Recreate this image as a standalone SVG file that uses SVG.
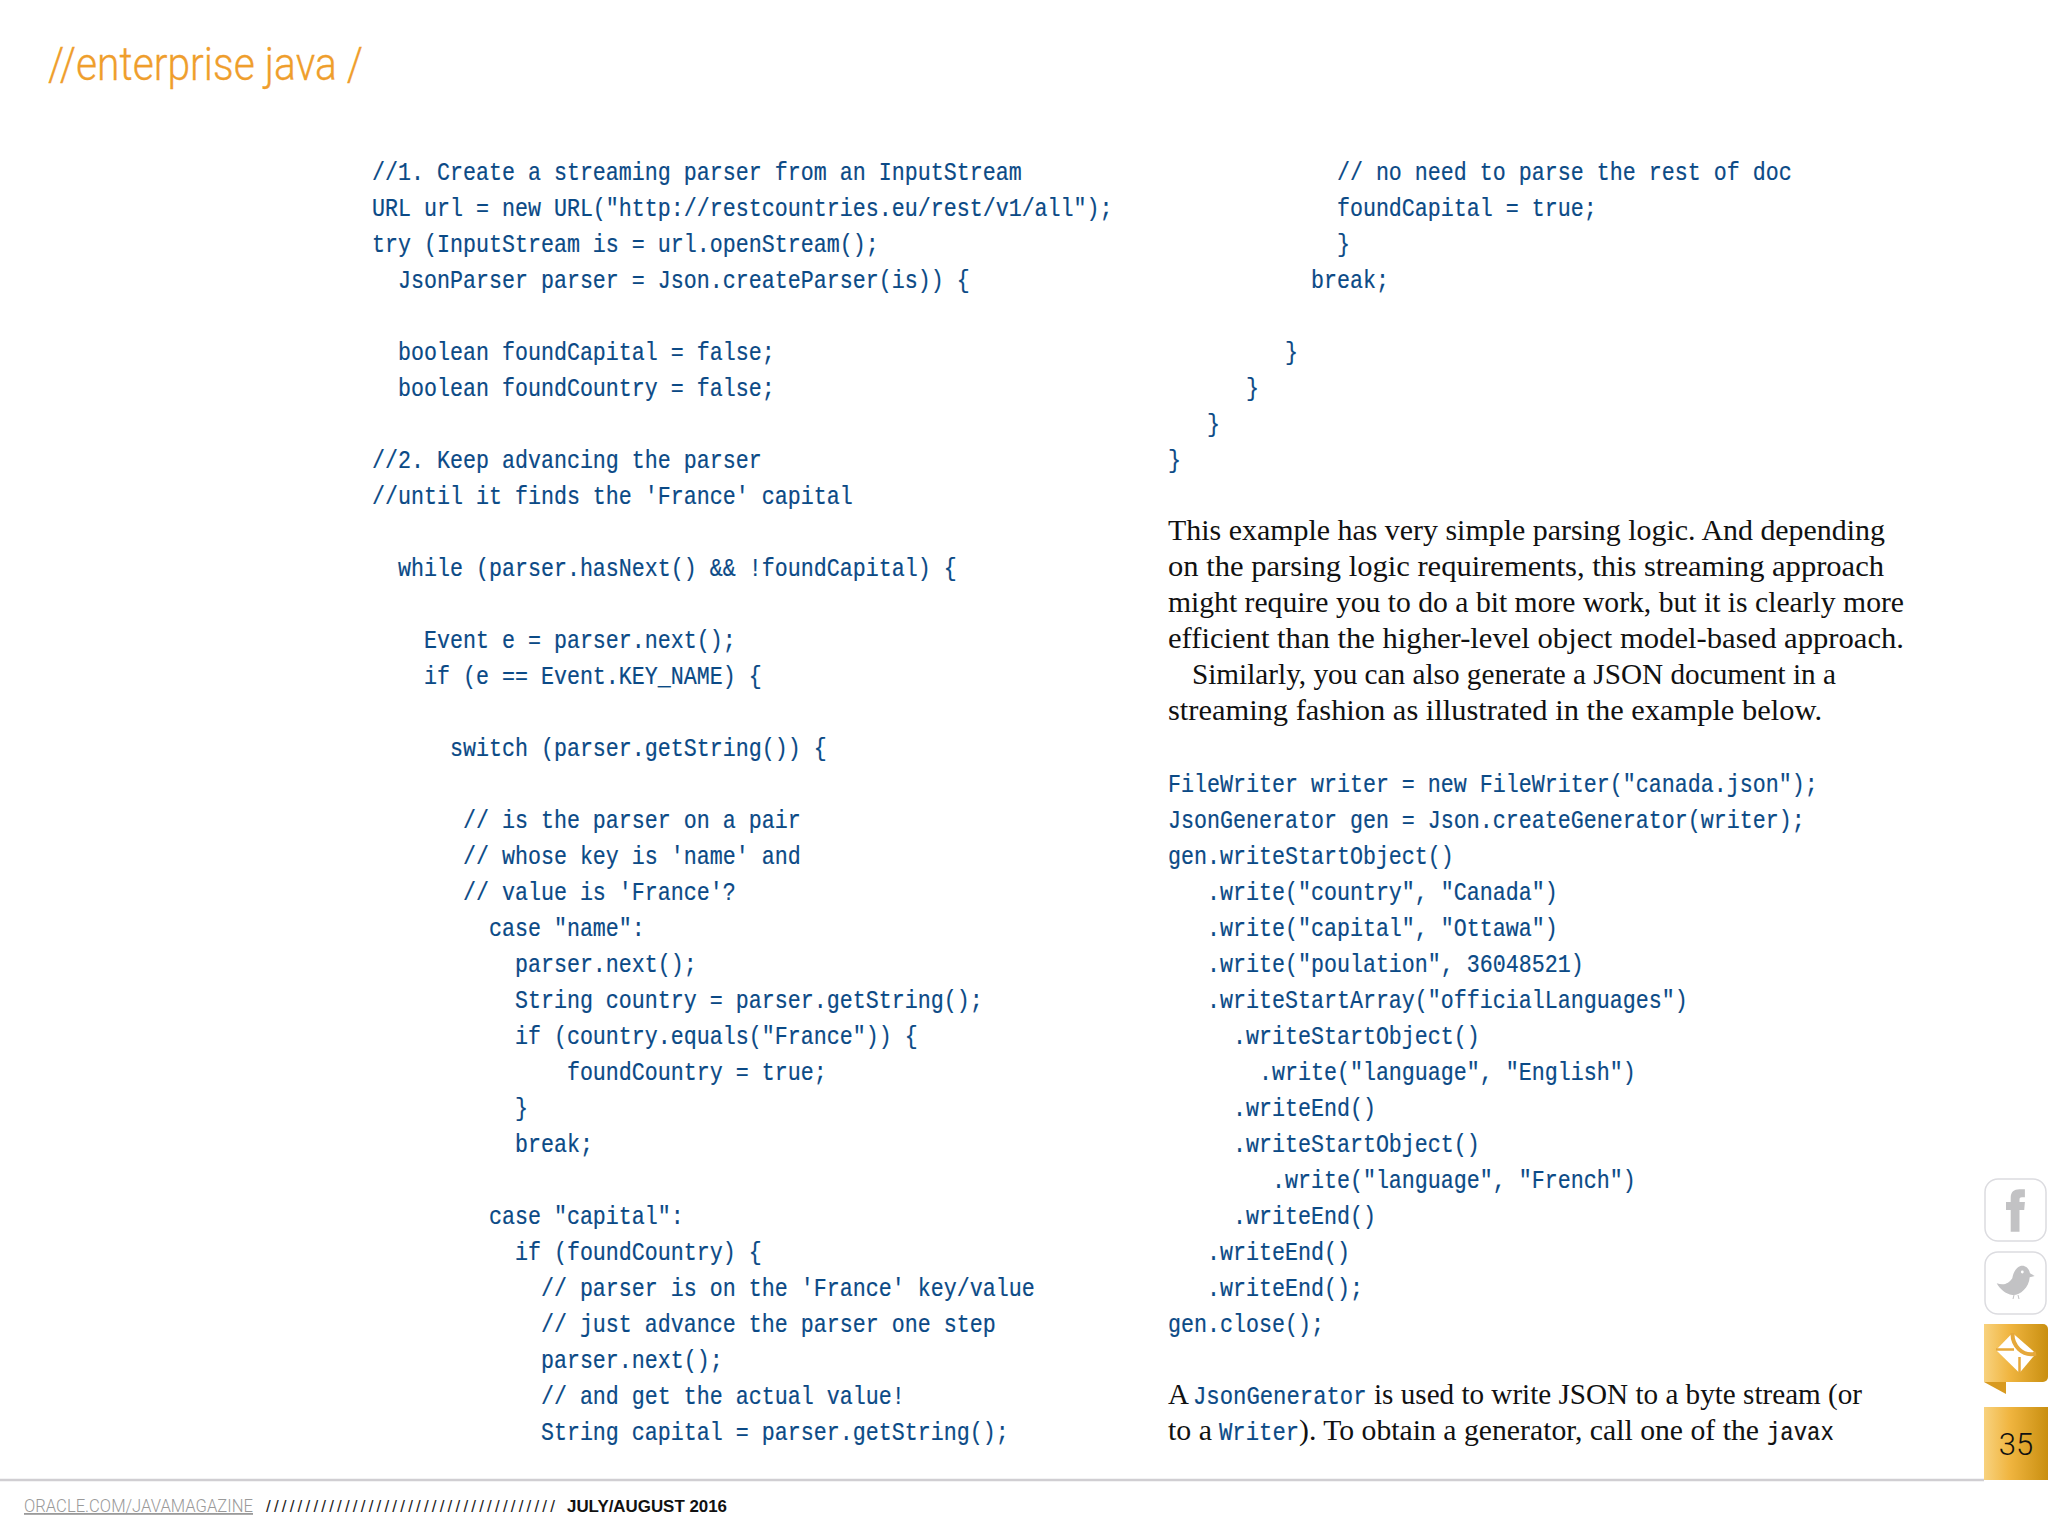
<svg xmlns="http://www.w3.org/2000/svg" width="2048" height="1536" viewBox="0 0 2048 1536">
<defs>
<linearGradient id="gold" x1="0" y1="0" x2="1" y2="0"><stop offset="0" stop-color="#f8d27e"/><stop offset=".4" stop-color="#f0b540"/><stop offset="1" stop-color="#c98f10"/></linearGradient>
</defs>
<style>
.code{font-family:"Liberation Mono",monospace;font-size:25px;fill:#0b4a86;stroke:#0b4a86;stroke-width:.2;white-space:pre}
.ser{font-family:"Liberation Serif",serif;font-size:29px;fill:#111}
.box{fill:#fff;stroke:#dcdce0;stroke-width:1.5}
.ico{fill:#c2c2c4}
.fold{fill:none;stroke:#e6a83a}
</style>
<rect width="2048" height="1536" fill="#fff"/>
<g id="heading"><text x="48" y="80" textLength="315" lengthAdjust="spacingAndGlyphs" style="font-family:Roboto,sans-serif;font-weight:300;font-size:46px;fill:#ef9e2c;stroke:#ef9e2c;stroke-width:.3">//enterprise java /</text></g>
<g id="code-left">
<text class="code" transform="translate(372 0) scale(.8667 1)">
<tspan x="0" y="180">//1. Create a streaming parser from an InputStream</tspan>
<tspan x="0" y="216">URL url = new URL("http://restcountries.eu/rest/v1/all");</tspan>
<tspan x="0" y="252">try (InputStream is = url.openStream();</tspan>
<tspan x="0" y="288">  JsonParser parser = Json.createParser(is)) {</tspan>
<tspan x="0" y="360">  boolean foundCapital = false;</tspan>
<tspan x="0" y="396">  boolean foundCountry = false;</tspan>
<tspan x="0" y="468">//2. Keep advancing the parser</tspan>
<tspan x="0" y="504">//until it finds the 'France' capital</tspan>
<tspan x="0" y="576">  while (parser.hasNext() &amp;&amp; !foundCapital) {</tspan>
<tspan x="0" y="648">    Event e = parser.next();</tspan>
<tspan x="0" y="684">    if (e == Event.KEY_NAME) {</tspan>
<tspan x="0" y="756">      switch (parser.getString()) {</tspan>
<tspan x="0" y="828">       // is the parser on a pair</tspan>
<tspan x="0" y="864">       // whose key is 'name' and</tspan>
<tspan x="0" y="900">       // value is 'France'?</tspan>
<tspan x="0" y="936">         case "name":</tspan>
<tspan x="0" y="972">           parser.next();</tspan>
<tspan x="0" y="1008">           String country = parser.getString();</tspan>
<tspan x="0" y="1044">           if (country.equals("France")) {</tspan>
<tspan x="0" y="1080">               foundCountry = true;</tspan>
<tspan x="0" y="1116">           }</tspan>
<tspan x="0" y="1152">           break;</tspan>
<tspan x="0" y="1224">         case "capital":</tspan>
<tspan x="0" y="1260">           if (foundCountry) {</tspan>
<tspan x="0" y="1296">             // parser is on the 'France' key/value</tspan>
<tspan x="0" y="1332">             // just advance the parser one step</tspan>
<tspan x="0" y="1368">             parser.next();</tspan>
<tspan x="0" y="1404">             // and get the actual value!</tspan>
<tspan x="0" y="1440">             String capital = parser.getString();</tspan>
</text>
</g>
<g id="code-right-top">
<text class="code" transform="translate(1168 0) scale(.8667 1)">
<tspan x="0" y="180">             // no need to parse the rest of doc</tspan>
<tspan x="0" y="216">             foundCapital = true;</tspan>
<tspan x="0" y="252">             }</tspan>
<tspan x="0" y="288">           break;</tspan>
<tspan x="0" y="360">         }</tspan>
<tspan x="0" y="396">      }</tspan>
<tspan x="0" y="432">   }</tspan>
<tspan x="0" y="468">}</tspan>
</text>
</g>
<g id="body-text">
<text class="ser" x="1168" y="540" textLength="717" lengthAdjust="spacingAndGlyphs">This example has very simple parsing logic. And depending</text>
<text class="ser" x="1168" y="576" textLength="716" lengthAdjust="spacingAndGlyphs">on the parsing logic requirements, this streaming approach</text>
<text class="ser" x="1168" y="612" textLength="736" lengthAdjust="spacingAndGlyphs">might require you to do a bit more work, but it is clearly more</text>
<text class="ser" x="1168" y="648" textLength="736" lengthAdjust="spacingAndGlyphs">efficient than the higher-level object model-based approach.</text>
<text class="ser" x="1192" y="684" textLength="644" lengthAdjust="spacingAndGlyphs">Similarly, you can also generate a JSON document in a</text>
<text class="ser" x="1168" y="720" textLength="654" lengthAdjust="spacingAndGlyphs">streaming fashion as illustrated in the example below.</text>
</g>
<g id="code-right-bottom">
<text class="code" transform="translate(1168 0) scale(.8667 1)">
<tspan x="0" y="792">FileWriter writer = new FileWriter("canada.json");</tspan>
<tspan x="0" y="828">JsonGenerator gen = Json.createGenerator(writer);</tspan>
<tspan x="0" y="864">gen.writeStartObject()</tspan>
<tspan x="0" y="900">   .write("country", "Canada")</tspan>
<tspan x="0" y="936">   .write("capital", "Ottawa")</tspan>
<tspan x="0" y="972">   .write("poulation", 36048521)</tspan>
<tspan x="0" y="1008">   .writeStartArray("officialLanguages")</tspan>
<tspan x="0" y="1044">     .writeStartObject()</tspan>
<tspan x="0" y="1080">       .write("language", "English")</tspan>
<tspan x="0" y="1116">     .writeEnd()</tspan>
<tspan x="0" y="1152">     .writeStartObject()</tspan>
<tspan x="0" y="1188">        .write("language", "French")</tspan>
<tspan x="0" y="1224">     .writeEnd()</tspan>
<tspan x="0" y="1260">   .writeEnd()</tspan>
<tspan x="0" y="1296">   .writeEnd();</tspan>
<tspan x="0" y="1332">gen.close();</tspan>
</text>
</g>
<g id="closing-text">
<text class="ser" x="1168" y="1404">A</text>
<text class="code" transform="translate(1193 1404) scale(.89 1)">JsonGenerator</text>
<text class="ser" x="1374" y="1404" textLength="488" lengthAdjust="spacingAndGlyphs">is used to write JSON to a byte stream (or</text>
<text class="ser" x="1168" y="1440" textLength="44" lengthAdjust="spacingAndGlyphs">to a</text>
<text class="code" transform="translate(1219 1440) scale(.89 1)">Writer</text>
<text class="ser" x="1299" y="1440" textLength="460" lengthAdjust="spacingAndGlyphs">). To obtain a generator, call one of the</text>
<text class="code" transform="translate(1767 1440) scale(.89 1)" style="fill:#111;stroke:#111">javax</text>
</g>
<g id="footer">
<line x1="0" y1="1480" x2="1984" y2="1480" stroke="#d0ced2" stroke-width="2.5"/>
<text x="24" y="1512" textLength="229" lengthAdjust="spacingAndGlyphs" text-decoration="underline" style="font-family:Roboto,sans-serif;font-weight:300;font-size:18px;fill:#9a9a9a">ORACLE.COM/JAVAMAGAZINE</text>
<text x="266" y="1512" textLength="289" style="font-family:'Liberation Sans',sans-serif;font-size:17px;fill:#222">/////////////////////////////////////</text>
<text x="567" y="1512" textLength="160" lengthAdjust="spacingAndGlyphs" style="font-family:'Liberation Sans',sans-serif;font-weight:700;font-size:17px;fill:#111">JULY/AUGUST 2016</text>
</g>
<g id="facebook">
<rect class="box" x="1985" y="1179" width="61" height="62" rx="13"/>
<path class="ico" d="M2010.700 1231.700V1210h-4.700v-8h4.700v-4c0-6 3.300-8.700 8.700-8.700h5.500v8h-3c-1.700 0-2.400.7-2.400 2.400v2.300h5.400l-.7 8h-4.700v21.700z"/>
</g>
<g id="twitter">
<rect class="box" x="1985" y="1252" width="61" height="62" rx="13"/>
<path class="ico" d="M1996.700 1283.300C2004 1286 2009 1283.300 2012.300 1278.300C2013.300 1271.700 2017.300 1265.700 2022.300 1265.700C2025.700 1265.700 2029 1268.300 2030 1273.300L2034.700 1276L2029.700 1277.300C2029 1288.300 2019 1296 2012.300 1295C2005.700 1294 2000 1289.300 1996.700 1283.300Z"/>
<circle cx="2022.300" cy="1272" r="1.400" fill="#fff"/>
<path d="M2014 1295l-1 4M2018 1295l1 4" stroke="#c2c2c4" fill="none"/>
</g>
<g id="email">
<path d="M1984 1324h59a5 5 0 0 1 5 5v48a5 5 0 0 1-5 5h-59z" fill="url(#gold)"/>
<path d="M1984 1382h22v12z" fill="#d89a20"/>
<path d="M2012.500 1333L2036 1353.500L2019.500 1373L1996 1350z" fill="#fff"/>
<path class="fold" d="M2012.500 1333C2012 1345 2022 1357 2036 1353.500" stroke-width="4"/>
<path class="fold" d="M1996 1349.500H2014M2019.500 1373V1357" stroke-width="2.500"/>
</g>
<g id="page-number">
<rect x="1984" y="1407" width="64" height="73" fill="url(#gold)"/>
<text x="2016" y="1455" text-anchor="middle" style="font-family:Roboto,sans-serif;font-weight:300;font-size:31px;fill:#111">35</text>
</g>
</svg>
